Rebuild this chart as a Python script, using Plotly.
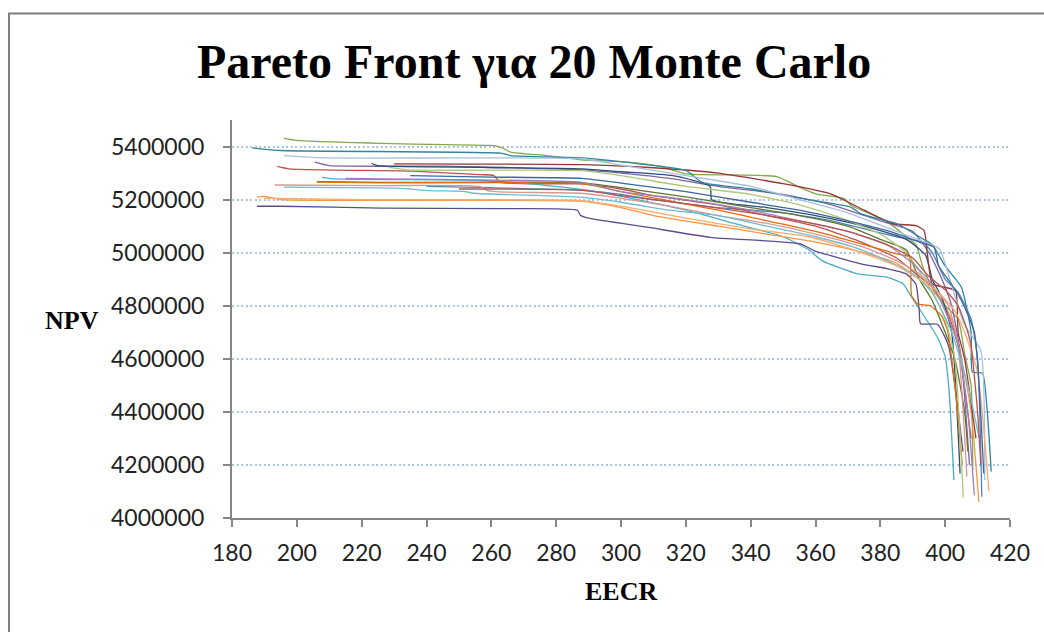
import plotly.graph_objects as go

# ---------------- data (EECR, NPV in thousands) ----------------
s01_x = [240, 260, 288, 300, 310, 330, 350, 365, 375, 385, 393, 396, 400, 404, 408, 410, 411.3]
s01_y = [5250, 5245, 5235, 5220, 5200, 5170, 5150, 5120, 5090, 5060, 5040, 5000, 4900, 4850, 4750, 4600, 4080]

s02_x = [194, 197.5, 236, 256.6, 260.7, 262.8, 287.5, 300, 310, 330, 345, 360, 372, 385, 390, 395, 400, 404, 408]
s02_y = [5325, 5316, 5307, 5294, 5291, 5265, 5259, 5240, 5215, 5180, 5140, 5100, 5050, 4980, 4930, 4880, 4800, 4650, 4300]

s03_x = [196, 200, 226, 246, 260, 263, 266, 277, 288, 302, 312, 320, 348, 355, 360, 369, 371, 378, 384, 388, 391, 393, 396, 400, 404, 406, 408, 408.5]
s03_y = [5432, 5423, 5412, 5407, 5404, 5397, 5379, 5366, 5350, 5341, 5325, 5297, 5287, 5247, 5222, 5203, 5178, 5140, 5100, 5060, 5030, 4950, 4870, 4800, 4750, 4620, 4500, 4180]

s04_x = [205.5, 210, 246, 257, 288, 300, 315, 330, 350, 365, 380, 390, 395, 399, 402, 405, 407.5]
s04_y = [5341, 5328, 5326, 5322, 5312, 5300, 5280, 5250, 5220, 5180, 5120, 5080, 5000, 4900, 4800, 4600, 4200]

s05_x = [207.8, 211.4, 256.6, 277.2, 290, 305, 320, 335, 350, 358, 362, 373, 382, 387, 389, 392.4, 397.6, 400, 401.2, 402.7]
s05_y = [5284, 5278, 5272, 5253, 5235, 5200, 5160, 5110, 5060, 5010, 4970, 4920, 4908, 4883, 4845, 4782, 4681, 4608, 4482, 4143]

s06_x = [187.7, 190, 195, 287.5, 300, 310, 330, 345, 360, 375, 385, 392, 398, 402, 405, 408, 410.4]
s06_y = [5209, 5212, 5200, 5194, 5170, 5140, 5100, 5070, 5040, 5000, 4960, 4900, 4830, 4750, 4600, 4400, 4060]

s07_x = [223, 225, 257, 288, 300, 316, 327.5, 328, 345, 360, 375, 388, 394, 396, 399, 402, 404.6]
s07_y = [5337, 5328, 5322, 5316, 5305, 5290, 5250, 5200, 5170, 5140, 5100, 5050, 4990, 4900, 4830, 4700, 4168]

s08_x = [230, 288, 310, 330, 350, 365, 375, 384, 391, 393.5, 394.5, 396, 399.6, 403.2, 404, 406, 409.5]
s08_y = [5335, 5332, 5320, 5300, 5260, 5220, 5160, 5109, 5102, 5083, 4996, 4883, 4870, 4857, 4700, 4600, 4300]

s09_x = [206.2, 226, 288, 300, 320, 340, 355, 370, 380, 388, 392, 396, 400, 403, 406, 407]
s09_y = [5268, 5265, 5263, 5245, 5210, 5170, 5140, 5100, 5050, 5010, 4900, 4820, 4700, 4600, 4400, 4250]

s10_x = [187.7, 195, 226, 262, 286.5, 287.5, 290, 308, 327.6, 355.4, 359.5, 374, 382, 388, 391, 392, 392.4, 397.6, 401, 405.5]
s10_y = [5175, 5175, 5168, 5166, 5160, 5141, 5130, 5096, 5058, 5033, 5008, 4958, 4940, 4920, 4880, 4782, 4732, 4730, 4650, 4250]

s11_x = [186.2, 195, 263, 266, 288, 302, 320, 325, 340, 353, 371, 374, 385, 392, 396, 400, 405, 408, 408.4, 411.5, 413, 414.2]
s11_y = [5395, 5385, 5375, 5366, 5357, 5340, 5310, 5265, 5240, 5209, 5171, 5146, 5110, 5060, 5030, 4950, 4870, 4700, 4550, 4546, 4400, 4175]

s12_x = [206.2, 226, 288, 300, 315, 330, 345, 360, 375, 385, 389, 389.6, 391.4, 395.4, 399, 400.7, 403, 405.3]
s12_y = [5266, 5263, 5260, 5230, 5195, 5160, 5120, 5080, 5030, 4995, 4983, 4840, 4807, 4800, 4760, 4707, 4500, 4200]

s13_x = [196, 210, 288, 300, 320, 340, 355, 370, 385, 397.6, 398.6, 405.8, 411, 412.2]
s13_y = [5366, 5357, 5354, 5330, 5290, 5250, 5200, 5150, 5080, 5020, 5008, 4732, 4631, 4143]

s14_x = [193.2, 226, 256.6, 258.7, 264.9, 287.5, 300, 315, 330, 345, 360, 375, 385, 392, 397, 401, 404, 406.7]
s14_y = [5255, 5253, 5249, 5234, 5228, 5224, 5205, 5175, 5140, 5110, 5070, 5020, 4970, 4920, 4860, 4800, 4650, 4156]

s15_x = [228, 234, 288, 300, 320, 340, 355, 368, 380, 388, 392, 396, 400, 403, 405.6]
s15_y = [5322, 5312, 5309, 5290, 5250, 5220, 5180, 5130, 5070, 5000, 4930, 4850, 4750, 4600, 4076]

s16_x = [215, 250, 288, 300, 320, 340, 355, 370, 382, 390, 396, 400, 404, 407, 409]
s16_y = [5280, 5275, 5265, 5230, 5200, 5160, 5120, 5080, 5030, 4960, 4880, 4780, 4650, 4400, 4085]

s17_x = [196, 231, 241, 251.5, 254.6, 287.5, 300, 315, 330, 345, 360, 372, 382, 390, 396, 402, 407, 410.5]
s17_y = [5247, 5243, 5234, 5231, 5224, 5209, 5190, 5160, 5140, 5100, 5060, 5020, 4970, 4920, 4850, 4700, 4500, 4300]

s18_x = [190, 220, 288, 300, 320, 340, 358, 372, 385, 392, 398, 403, 406, 410, 413.5]
s18_y = [5205, 5200, 5196, 5175, 5130, 5090, 5060, 5010, 4950, 4900, 4850, 4780, 4700, 4550, 4100]

s19_x = [235, 260, 288, 300, 320, 340, 355, 370, 383, 392, 396.6, 398, 402, 405, 409, 411.9]
s19_y = [5290, 5285, 5280, 5262, 5230, 5190, 5160, 5120, 5080, 5040, 5020, 4950, 4880, 4820, 4700, 4168]

s20_x = [250, 288, 300, 320, 340, 355, 370, 382, 390, 395, 400, 404, 407, 408, 410, 411]
s20_y = [5240, 5236, 5215, 5185, 5150, 5120, 5080, 5030, 4980, 4910, 4860, 4800, 4700, 4650, 4400, 4200]

series_x = [s01_x, s02_x, s03_x, s04_x, s05_x, s06_x, s07_x, s08_x, s09_x, s10_x,
            s11_x, s12_x, s13_x, s14_x, s15_x, s16_x, s17_x, s18_x, s19_x, s20_x]
series_y = [s01_y, s02_y, s03_y, s04_y, s05_y, s06_y, s07_y, s08_y, s09_y, s10_y,
            s11_y, s12_y, s13_y, s14_y, s15_y, s16_y, s17_y, s18_y, s19_y, s20_y]

colors = ["#4F81BD", "#C0504D", "#86A84A", "#8064A2", "#4BACC6", "#F79646",
          "#2C4D75", "#953735", "#5F7530", "#5F4B8B", "#31859C", "#E46C0A",
          "#A7C0DE", "#D99694", "#AFC97A", "#9983B5", "#6FBDD1", "#F9AB6B",
          "#3A679C", "#B85450"]

y_ticks = [4000000, 4200000, 4400000, 4600000, 4800000, 5000000, 5200000, 5400000]
x_ticks = [180, 200, 220, 240, 260, 280, 300, 320, 340, 360, 380, 400, 420]

fig = go.Figure()
for i, (xs, ys) in enumerate(zip(series_x, series_y)):
    fig.add_trace(go.Scatter(
        x=xs, y=[v * 1000 for v in ys], mode="lines",
        line=dict(color=colors[i], width=1.3, shape="spline", smoothing=0.5),
        name=f"MC {i + 1}", showlegend=False, hoverinfo="skip"))

fig.update_layout(
    width=1044, height=632,
    margin=dict(l=232, r=34, t=120, b=114),
    paper_bgcolor="white", plot_bgcolor="white",
    showlegend=False,
)

fig.update_xaxes(
    range=[180, 420], tickvals=x_ticks, ticktext=[str(v) for v in x_ticks],
    showgrid=False, zeroline=False,
    showline=True, linecolor="#868686", linewidth=2,
    ticks="outside", ticklen=7, tickwidth=2, tickcolor="#868686",
    tickfont=dict(family="Lato", size=23, color="#222222"),
    ticklabelstandoff=6,
)
fig.update_yaxes(
    range=[4000000, 5500000], tickvals=y_ticks, ticktext=[str(v) for v in y_ticks],
    showgrid=True, gridcolor="#AFC3E6", gridwidth=1.5, griddash="2px,2.5px",
    zeroline=False,
    showline=True, linecolor="#868686", linewidth=2,
    ticks="outside", ticklen=7, tickwidth=2, tickcolor="#868686",
    tickfont=dict(family="Lato", size=23, color="#222222"),
    ticklabelstandoff=14,
)

fig.add_annotation(text="<b>Pareto Front για 20 Monte Carlo</b>", xref="paper", yref="paper",
                   x=0.388, y=1.147, xanchor="center", yanchor="middle", showarrow=False,
                   font=dict(family="Liberation Serif", size=48, color="black"))
fig.add_annotation(text="<b>NPV</b>", xref="paper", yref="paper",
                   x=-0.2053, y=0.496, xanchor="center", yanchor="middle", showarrow=False,
                   font=dict(family="Liberation Serif", size=26, color="black"))
fig.add_annotation(text="<b>EECR</b>", xref="paper", yref="paper",
                   x=0.5005, y=-0.184, xanchor="center", yanchor="middle", showarrow=False,
                   font=dict(family="Liberation Serif", size=26, color="black"))

# chart-area border (extends off the page to the right and bottom)
fig.add_shape(type="rect", xref="paper", yref="paper",
              x0=(9 - 232) / 778, x1=1.2, y0=-0.5, y1=(517.5 - 13) / 398,
              line=dict(color="#7F7F7F", width=2), fillcolor="rgba(0,0,0,0)", layer="below")

fig.write_html("out.html")
